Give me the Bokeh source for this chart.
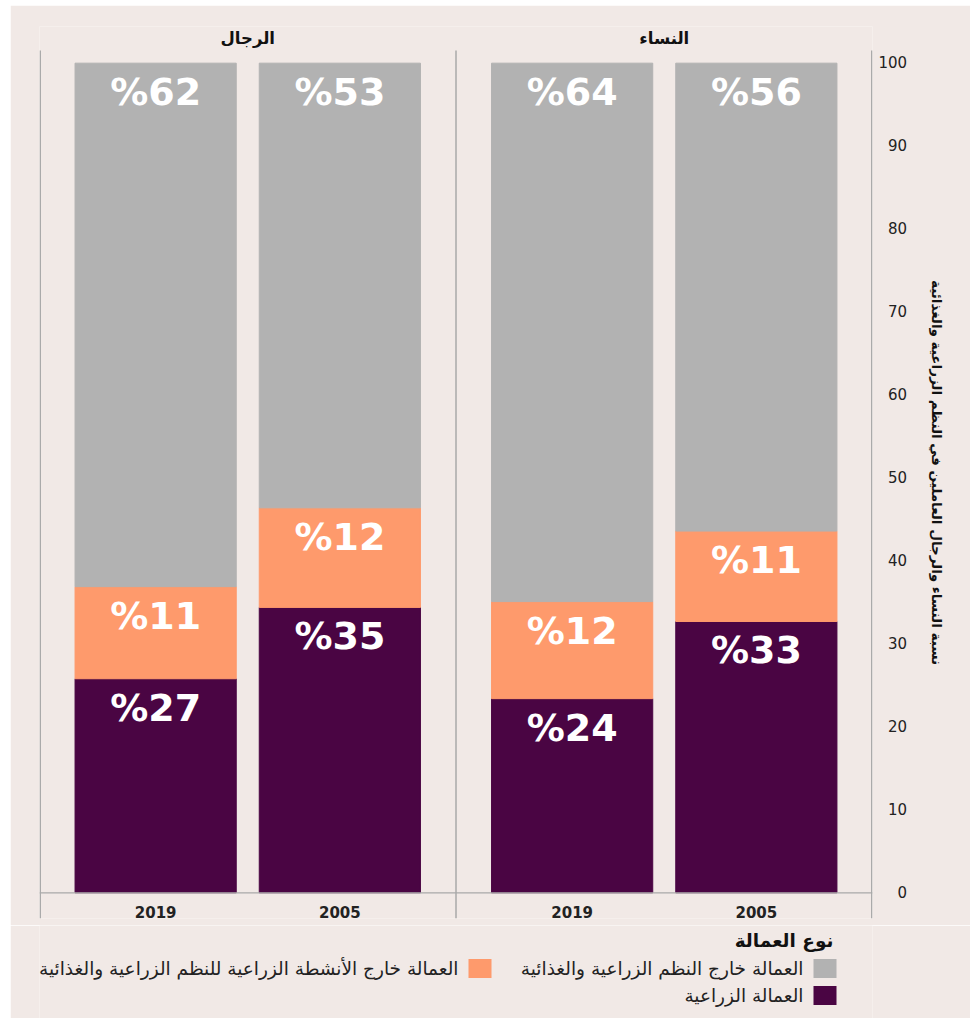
from bokeh.plotting import figure
from bokeh.models import ColumnDataSource, FactorRange, Range1d, FixedTicker, Span, CustomJSTickFormatter
from bokeh.layouts import column
from bokeh.embed import file_html
from bokeh.resources import INLINE
from bokeh.core.properties import value

# ---------------- data ----------------
facets = ["الرجال", "الرجال", "النساء", "النساء"]
years = ["2019", "2005", "2019", "2005"]
agri = [25.8, 34.4, 23.4, 32.7]
off_farm = [11.1, 12.0, 11.7, 10.9]
non_afs = [63.1, 53.6, 64.9, 56.4]
agri_labels = ["%27", "%35", "%24", "%33"]
off_labels = ["%11", "%12", "%12", "%11"]
non_labels = ["%62", "%53", "%64", "%56"]
facet_titles = ["الرجال", "النساء"]
series_names = [
    "العمالة الزراعية",
    "العمالة خارج الأنشطة الزراعية للنظم الزراعية والغذائية",
    "العمالة خارج النظم الزراعية والغذائية",
]
colors = ["#4a0543", "#fe9a6c", "#b2b2b2"]
y_ticks = [0, 10, 20, 30, 40, 50, 60, 70, 80, 90, 100]
y_title = "نسبة النساء والرجال العاملين في النظم الزراعية والغذائية"
legend_title = "نوع العمالة"

# ---------------- styling ----------------
BG = "#f1e9e6"
LINE = "#a9a9a9"
FONT = "DejaVu Sans"
GROUP_PAD = 0.261
EDGE = 0.5 + GROUP_PAD / 2
Y0, Y1 = -3.10, 104.42
BORDER_L, BORDER_R = 29, 98

x = list(zip(facets, years))
agri_top = [a for a in agri]
off_top = [a + o for a, o in zip(agri, off_farm)]
non_top = [a + o + n for a, o, n in zip(agri, off_farm, non_afs)]

src = ColumnDataSource(dict(x=x, agri=agri, off=off_farm, non=non_afs))

xr = FactorRange(*x, factor_padding=0.0, group_padding=GROUP_PAD,
                 range_padding=EDGE - 0.5, range_padding_units="absolute")

p = figure(width=960, height=920, x_range=xr, y_range=Range1d(Y0, Y1),
           output_backend="svg", toolbar_location=None,
           x_axis_location=None, y_axis_location="right",
           min_border_left=BORDER_L, min_border_right=BORDER_R,
           min_border_top=21, min_border_bottom=7)
p.background_fill_color = BG
p.border_fill_color = BG
p.outline_line_color = None
p.grid.visible = False

p.vbar_stack(["agri", "off", "non"], x="x", width=0.875, color=colors, source=src)

# value labels
lab_src = ColumnDataSource(dict(
    x=x * 3,
    y=agri_top + off_top + non_top,
    t=agri_labels + off_labels + non_labels,
))
p.text(x="x", y="y", text="t", source=lab_src, y_offset=29,
       text_align="center", text_baseline="middle", text_color="white",
       text_font=value(FONT), text_font_style="bold", text_font_size="38px")

# year labels
p.text(x=x, y=[0] * 4, text=years, y_offset=19, text_align="center",
       text_baseline="middle", text_color="#222222", text_font=value(FONT),
       text_font_style="bold", text_font_size="15px")

# facet titles
p.text(x=facet_titles, y=[103.0] * 2, text=facet_titles, text_align="center",
       text_baseline="middle", text_color="#111111", text_font=value(FONT),
       text_font_style="bold", text_font_size="16.5px")

# facet separators
sep_x = [(x[0][0], x[0][1], -EDGE + 0.004), (x[1][0], x[1][1], EDGE), (x[3][0], x[3][1], EDGE - 0.004)]
p.segment(x0=sep_x, x1=sep_x, y0=[Y0] * 3, y1=[101.53] * 3, line_color=LINE, line_width=1.5)
p.add_layout(Span(location=0, dimension="width", line_color=LINE, line_width=1.2))

ya = p.yaxis[0]
ya.ticker = FixedTicker(ticks=y_ticks)
ya.formatter = CustomJSTickFormatter(code="""
    const s = String(tick);
    return '\\u2007'.repeat(Math.max(0, 3 - s.length)) + s;
""")
ya.axis_line_color = None
ya.major_tick_line_color = None
ya.minor_tick_line_color = None
ya.major_tick_out = 0
ya.major_tick_in = 0
ya.major_label_standoff = 6
ya.major_label_text_font = FONT
ya.major_label_text_font_size = "15px"
ya.major_label_text_color = "#222222"
ya.axis_label = y_title
ya.axis_label_standoff = 19
ya.axis_label_text_font = FONT
ya.axis_label_text_font_style = "bold"
ya.axis_label_text_font_size = "13.5px"
ya.axis_label_text_color = "#111111"

# ---------------- legend (right-to-left), x/y in page pixels ----------------
LEG_H = 93
leg = figure(width=960, height=LEG_H, x_range=Range1d(10 + BORDER_L, 10 + 960 - BORDER_R),
             y_range=Range1d(LEG_H, 0),
             output_backend="svg", toolbar_location=None,
             x_axis_location=None, y_axis_location=None,
             min_border=0, min_border_left=BORDER_L, min_border_right=BORDER_R,
             min_border_top=0, min_border_bottom=0)
leg.background_fill_color = BG
leg.border_fill_color = BG
leg.outline_line_color = None
leg.grid.visible = False

SW_W, SW_H, GAP = 23, 19, 10
col_right = [836, 491]
row_y = [43, 70]
order = [2, 1, 0]          # gray, orange, purple
slots = [(0, 0), (1, 0), (0, 1)]
sw_x, sw_y, sw_c, tx, ty, tt = [], [], [], [], [], []
for k, (c, r) in zip(order, slots):
    sw_x.append(col_right[c] - SW_W / 2)
    sw_y.append(row_y[r])
    sw_c.append(colors[k])
    tx.append(col_right[c] - SW_W - GAP)
    ty.append(row_y[r])
    tt.append(series_names[k])
leg.rect(x=sw_x, y=sw_y, width=SW_W, height=SW_H, fill_color=sw_c, line_color=None)
leg.text(x=tx, y=ty, text=tt, text_align="right", text_baseline="middle",
         text_font=value(FONT), text_font_size="18.5px", text_color="#222222")
leg.text(x=[col_right[0] - 3], y=[15], text=[legend_title], text_align="right",
         text_baseline="middle", text_font=value(FONT), text_font_style="bold",
         text_font_size="18.5px", text_color="#111111")

layout = column(p, leg, spacing=0, margin=(5, 0, 0, 10))
open("out.html", "w").write(file_html(layout, INLINE))
